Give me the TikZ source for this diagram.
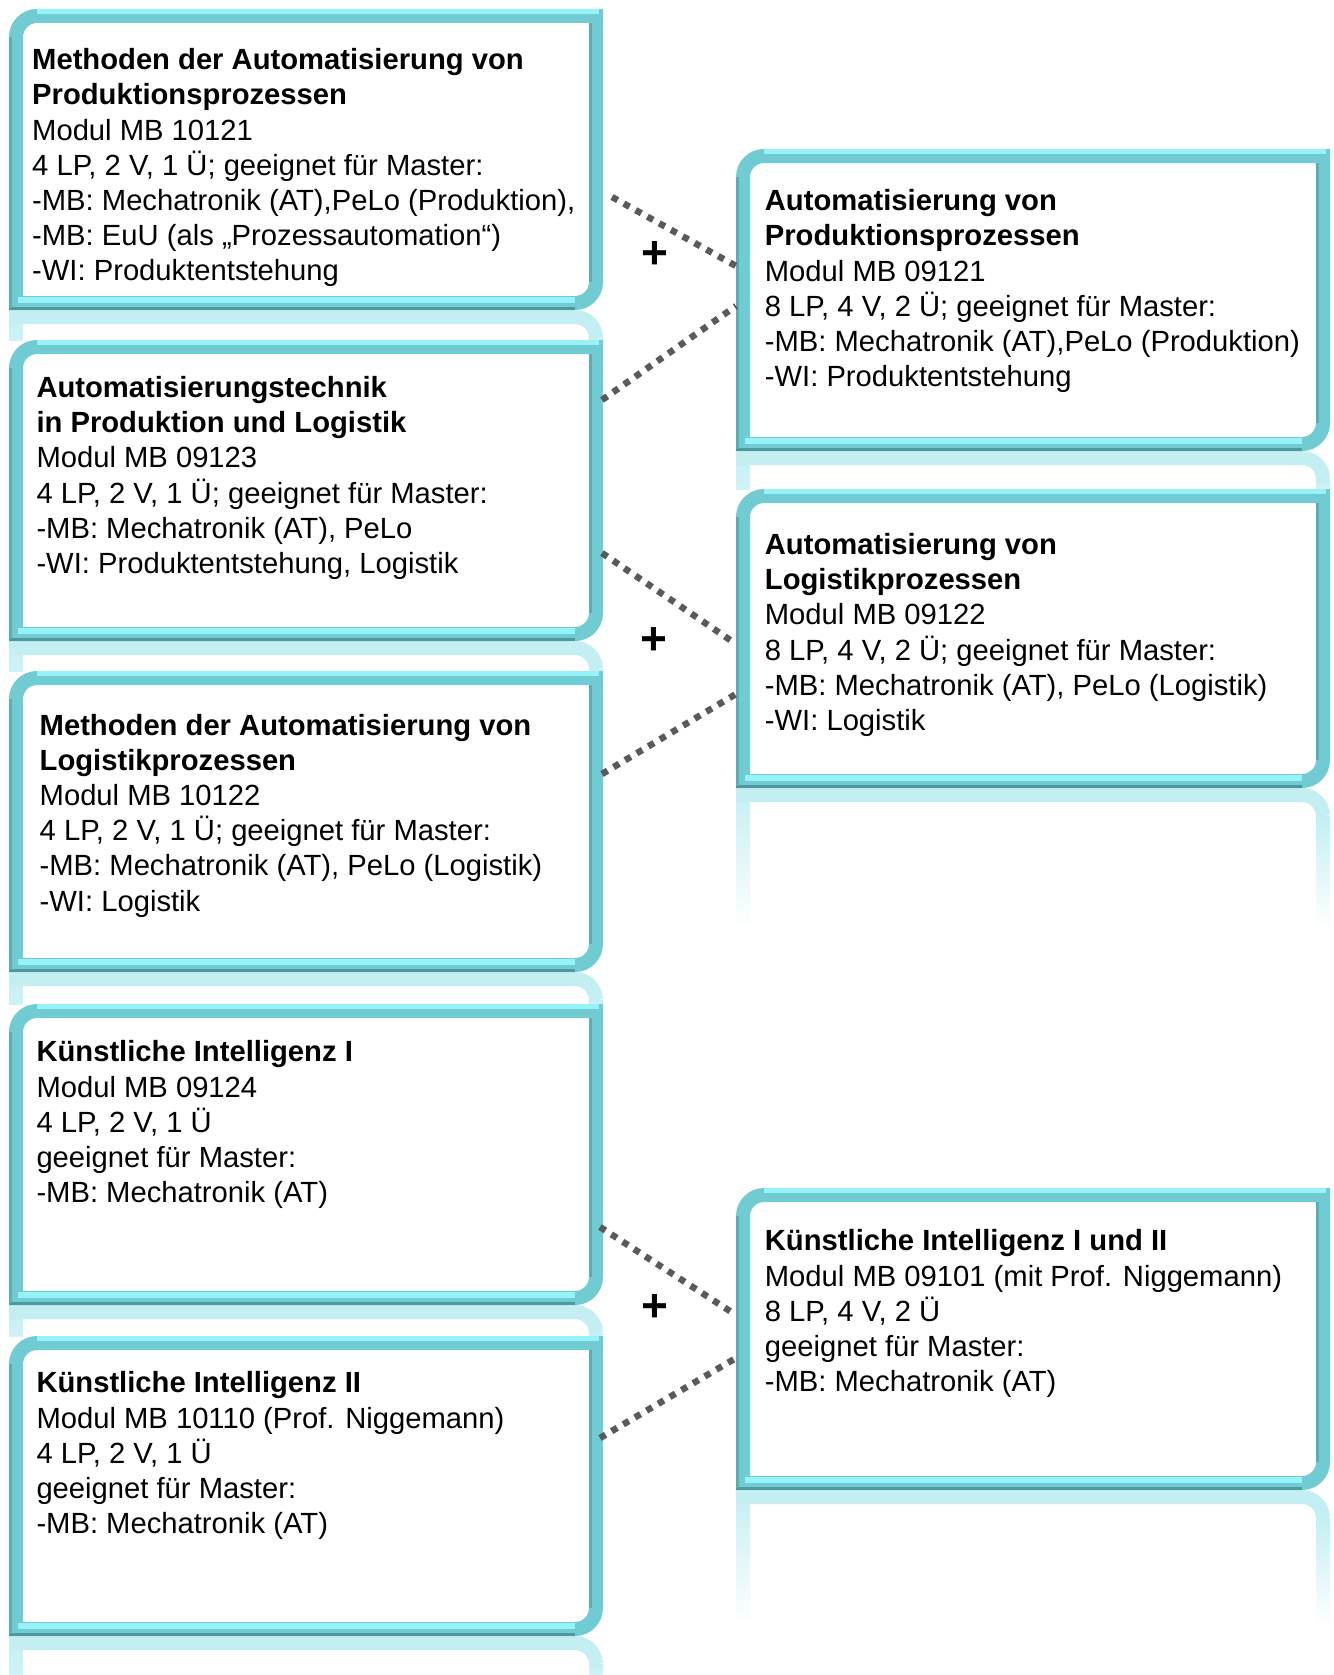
\documentclass[tikz,border=0pt]{standalone}
\usepackage{fontspec}
\setmainfont{Liberation Sans}
\usetikzlibrary{calc}
\definecolor{tbase}{HTML}{70CCD2}
\definecolor{tdark}{HTML}{4F999D}
\definecolor{tlight}{HTML}{95F3F8}
\definecolor{reflc}{HTML}{C3EFF2}
\definecolor{dotgrey}{HTML}{5A5A5A}
\def\crad{21}
\def\cctl{9.4}
\tikzset{
  boxarea/.style={draw=none, inner sep=0pt, outer sep=0pt, minimum width=594pt, minimum height=#1, anchor=north west},
  txt/.style={anchor=north west, inner sep=0pt, align=left, font=\fontsize{29.2}{35.2}\selectfont},
  dotline/.style={dotgrey, line width=6.5pt, dash pattern=on 6.5pt off 7pt},
  plus/.style={font=\fontsize{46}{46}\selectfont\bfseries, inner sep=0pt}
}
\newcommand\reflbox[3]{%
  \shade[top color=reflc, bottom color=#3] ($(#1.south west)+(0,0)$) rectangle ($(#1.south west)+(14,#2)$);
  \shade[top color=reflc, bottom color=#3] ($(#1.south east)+(-14,7+\crad)$) rectangle ($(#1.south east)+(0,#2)$);
  \draw[reflc, line width=14pt] ($(#1.south west)+(0,7)$) -- ($(#1.south east)+(-7-\crad,7)$) .. controls ($(#1.south east)+(-7-\cctl,7)$) and ($(#1.south east)+(-7,7+\cctl)$) .. ($(#1.south east)+(-7,7+\crad)$);
}
\newcommand\tframe[1]{%
  \draw[tbase, fill=white, line width=14pt, line join=miter] ($(#1.south west)+(7,-7)$) -- ($(#1.north west)+(7,7+\crad)$) .. controls ($(#1.north west)+(7,7+\cctl)$) and ($(#1.north west)+(7+\cctl,7)$) .. ($(#1.north west)+(7+\crad,7)$) -- ($(#1.north east)+(-7,7)$) -- ($(#1.south east)+(-7,-7-\crad)$) .. controls ($(#1.south east)+(-7,-7-\cctl)$) and ($(#1.south east)+(-7-\cctl,-7)$) .. ($(#1.south east)+(-7-\crad,-7)$) -- cycle;
  \draw[tlight, line width=5pt] ($(#1.north west)+(7+\crad,2.5)$) -- ($(#1.north east)+(-4,2.5)$);
  \draw[tlight, line width=6pt] ($(#1.south west)+(9,-10)$) -- ($(#1.south east)+(-7-\crad,-10)$);
  \draw[tdark, line width=3pt] ($(#1.south west)+(0,-1.5)$) -- ($(#1.south east)+(-7-\crad,-1.5)$);
  \draw[tdark!60!tbase, line width=3pt] ($(#1.south west)+(1.5,-2)$) -- ($(#1.north west)+(1.5,7+\crad)$);
  \draw[tdark!60!tbase, line width=3pt] ($(#1.north east)+(-12.5,14)$) -- ($(#1.south east)+(-12.5,-7-\crad)$);
}
\begin{document}
\begin{tikzpicture}[x=1pt, y=-1pt]
\fill[white] (0,0) rectangle (1333,1675);
\useasboundingbox (0,0) rectangle (1333,1675);

% box geometry
\node[boxarea=301pt] (b1) at (9,9) {};
\node[boxarea=301pt] (b2) at (9,340) {};
\node[boxarea=301pt] (b3) at (9,671) {};
\node[boxarea=301pt] (b4) at (9,1004) {};
\node[boxarea=300pt] (b5) at (9,1336) {};
\node[boxarea=302pt] (r1) at (736,149) {};
\node[boxarea=299pt] (r2) at (736,489) {};
\node[boxarea=302pt] (r3) at (736,1188) {};

% reflections
\reflbox{b1}{30}{reflc!80!white}
\reflbox{b2}{30}{reflc!80!white}
\reflbox{b3}{32}{reflc!80!white}
\reflbox{b4}{31}{reflc!80!white}
\reflbox{b5}{39}{reflc!75!white}
\reflbox{r1}{38}{reflc!75!white}
\reflbox{r2}{140}{white}
\reflbox{r3}{135}{white}

% frames
\tframe{b1}
\tframe{b2}
\tframe{b3}
\tframe{b4}
\tframe{b5}
\tframe{r1}
\tframe{r2}
\tframe{r3}

% texts
\node[txt] (t1) at (32,44.8) {\strut\textbf{Methoden der Automatisierung von}\\\textbf{Produktionsprozessen}\\Modul MB 10121\\4 LP, 2 V, 1 Ü; geeignet für Master:\\-MB: Mechatronik (AT),PeLo (Produktion),\\-MB: EuU (als „Prozessautomation“)\\-WI: Produktentstehung};
\node[txt] (t2) at (36.3,372.7) {\strut\textbf{Automatisierungstechnik}\\\textbf{in Produktion und Logistik}\\Modul MB 09123\\4 LP, 2 V, 1 Ü; geeignet für Master:\\-MB: Mechatronik (AT), PeLo\\-WI: Produktentstehung, Logistik};
\node[txt] (t3) at (39.5,710.2) {\strut\textbf{Methoden der Automatisierung von}\\\textbf{Logistikprozessen}\\Modul MB 10122\\4 LP, 2 V, 1 Ü; geeignet für Master:\\-MB: Mechatronik (AT), PeLo (Logistik)\\-WI: Logistik};
\node[txt] (t4) at (36.3,1037) {\strut\textbf{Künstliche Intelligenz I}\\Modul MB 09124\\4 LP, 2 V, 1 Ü\\geeignet für Master:\\-MB: Mechatronik (AT)};
\node[txt] (t5) at (36.3,1368.1) {\strut\textbf{Künstliche Intelligenz II}\\Modul MB 10110 (Prof. Niggemann)\\4 LP, 2 V, 1 Ü\\geeignet für Master:\\-MB: Mechatronik (AT)};
\node[txt] (u1) at (764.7,185.8) {\strut\textbf{Automatisierung von}\\\textbf{Produktionsprozessen}\\Modul MB 09121\\8 LP, 4 V, 2 Ü; geeignet für Master:\\-MB: Mechatronik (AT),PeLo (Produktion)\\-WI: Produktentstehung};
\node[txt] (u2) at (764.7,529.7) {\strut\textbf{Automatisierung von}\\\textbf{Logistikprozessen}\\Modul MB 09122\\8 LP, 4 V, 2 Ü; geeignet für Master:\\-MB: Mechatronik (AT), PeLo (Logistik)\\-WI: Logistik};
\node[txt] (u3) at (764.7,1226) {\strut\textbf{Künstliche Intelligenz I und II}\\Modul MB 09101 (mit Prof. Niggemann)\\8 LP, 4 V, 2 Ü\\geeignet für Master:\\-MB: Mechatronik (AT)};

% connectors
\draw[dotline] ($(b1.north east)+(9,188)$) -- ($(r1.north west)+(0,117)$);
\draw[dotline] ($(b2.north east)+(-1,60)$) -- ($(r1.north west)+(0,157)$);
\draw[dotline] ($(b2.north east)+(-1,213)$) -- ($(r2.north west)+(0,155)$);
\draw[dotline] ($(b3.north east)+(-1,103)$) -- ($(r2.north west)+(0,205)$);
\draw[dotline] ($(b4.north east)+(-3,223)$) -- ($(r3.north west)+(0,127)$);
\draw[dotline] ($(b5.north east)+(-3,102)$) -- ($(r3.north west)+(0,170)$);

% plus signs
\node[plus] (p1) at (655,255) {+};
\node[plus] (p2) at (654,641) {+};
\node[plus] (p3) at (655,1308) {+};
\end{tikzpicture}
\end{document}
